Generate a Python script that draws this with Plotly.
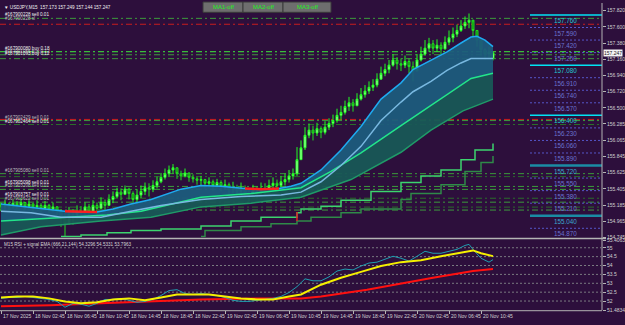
import plotly.graph_objects as go

W, H = 625, 325
BG = "#2d0f3c"
SANS = "Liberation Sans, Arial"

# ---------------- data ----------------
symbol_title = "▼ USDJPY,M15  157.173 157.249 157.144 157.247"
rsi_title = "M15 RSI + signal EMA (666,21,144) 54.3296 54.5331 53.7963"

candle_bars = list(range(0, 248, 2))
closes = [155.17, 155.20, 155.16, 155.21, 155.18, 155.22, 155.17, 155.20, 155.16, 155.18,
          155.14, 155.18, 155.13, 155.16, 155.10, 155.02, 154.93, 155.06, 155.02, 155.10,
          155.08, 155.16, 155.10, 155.18, 155.14, 155.22, 155.18, 155.26, 155.30, 155.36,
          155.33, 155.40, 155.34, 155.26, 155.32, 155.37, 155.42, 155.40, 155.45, 155.50,
          155.56, 155.61, 155.66, 155.69, 155.61, 155.58, 155.62, 155.56, 155.54, 155.52,
          155.53, 155.48, 155.50, 155.45, 155.49, 155.44, 155.46, 155.40, 155.42, 155.37,
          155.41, 155.34, 155.32, 155.38, 155.36, 155.41, 155.40, 155.45, 155.48, 155.45,
          155.50, 155.53, 155.58, 155.61, 155.80, 155.96, 156.13, 156.20, 156.16, 156.22,
          156.17, 156.24, 156.29, 156.33, 156.40, 156.44, 156.52, 156.57, 156.53, 156.62,
          156.68, 156.73, 156.78, 156.81, 156.89, 156.97, 157.02, 157.08, 157.15, 157.10,
          157.08, 157.13, 157.06, 157.00, 157.15, 157.23, 157.31, 157.37, 157.31, 157.35,
          157.30, 157.39, 157.45, 157.50, 157.55, 157.61, 157.66, 157.69, 157.55, 157.42,
          157.29, 157.23, 157.26, 157.247]
highs = [155.22, 155.26, 155.22, 155.26, 155.24, 155.28, 155.22, 155.25, 155.21, 155.25,
         155.21, 155.24, 155.20, 155.22, 155.17, 155.13, 155.10, 155.16, 155.13, 155.18,
         155.17, 155.22, 155.20, 155.25, 155.22, 155.29, 155.26, 155.33, 155.37, 155.42,
         155.41, 155.45, 155.42, 155.37, 155.40, 155.45, 155.49, 155.48, 155.52, 155.57,
         155.62, 155.68, 155.72, 155.74, 155.69, 155.65, 155.68, 155.61, 155.60, 155.57,
         155.58, 155.54, 155.56, 155.53, 155.54, 155.52, 155.53, 155.49, 155.50, 155.46,
         155.49, 155.45, 155.41, 155.46, 155.44, 155.49, 155.48, 155.53, 155.56, 155.53,
         155.58, 155.61, 155.66, 155.68, 155.97, 156.06, 156.24, 156.29, 156.26, 156.30,
         156.25, 156.32, 156.36, 156.41, 156.49, 156.53, 156.60, 156.65, 156.62, 156.70,
         156.77, 156.81, 156.86, 156.89, 156.97, 157.06, 157.10, 157.15, 157.23, 157.19,
         157.17, 157.21, 157.17, 157.13, 157.23, 157.33, 157.42, 157.45, 157.42, 157.43,
         157.39, 157.47, 157.55, 157.59, 157.63, 157.69, 157.74, 157.78, 157.66, 157.55,
         157.42, 157.31, 157.33, 157.249]
lows = [155.10, 155.13, 155.10, 155.14, 155.13, 155.16, 155.12, 155.13, 155.09, 155.13,
        155.09, 155.12, 155.08, 155.09, 155.02, 154.89, 154.76, 154.94, 154.92, 155.00,
        154.97, 155.05, 155.00, 155.08, 155.05, 155.13, 155.10, 155.18, 155.21, 155.28,
        155.25, 155.32, 155.26, 155.17, 155.20, 155.28, 155.32, 155.30, 155.36, 155.41,
        155.48, 155.53, 155.57, 155.61, 155.54, 155.52, 155.56, 155.50, 155.49, 155.46,
        155.45, 155.41, 155.42, 155.38, 155.42, 155.37, 155.40, 155.32, 155.34, 155.29,
        155.33, 155.28, 155.24, 155.29, 155.28, 155.32, 155.30, 155.36, 155.40, 155.37,
        155.42, 155.45, 155.49, 155.53, 155.58, 155.80, 155.93, 156.09, 156.06, 156.12,
        156.09, 156.14, 156.20, 156.24, 156.30, 156.34, 156.41, 156.46, 156.45, 156.53,
        156.60, 156.64, 156.69, 156.73, 156.78, 156.89, 156.93, 156.97, 157.06, 157.02,
        157.00, 157.04, 156.97, 156.86, 157.05, 157.13, 157.21, 157.26, 157.23, 157.26,
        157.22, 157.29, 157.35, 157.39, 157.46, 157.53, 157.57, 157.58, 157.46, 157.33,
        157.21, 157.15, 157.18, 157.144]
first_open = 155.20
last_open = 157.173
opens = [first_open] + closes[:-1]
opens[-1] = last_open

# moving-average envelope lines
blue_up_bars = [0, 10, 20, 32, 40, 48, 56, 65, 75, 90, 100, 110, 122, 130, 139, 145, 150, 160,
                170, 180, 190, 200, 206, 215, 223, 230, 235, 238, 242, 246]
blue_up = [155.20, 155.17, 155.14, 155.10, 155.09, 155.09, 155.13, 155.20, 155.26, 155.40,
           155.45, 155.44, 155.41, 155.40, 155.41, 155.44, 155.48, 155.66, 155.93, 156.25,
           156.62, 156.84, 157.02, 157.15, 157.26, 157.38, 157.46, 157.47, 157.42, 157.33]
red_ranges = [(32, 48), (122, 139)]

blue_lo_bars = [0, 15, 30, 50, 65, 80, 100, 120, 140, 150, 160, 170, 180, 190, 200, 206, 215,
                223, 230, 235, 246]
blue_lo = [155.10, 155.08, 155.02, 155.02, 155.10, 155.18, 155.26, 155.30, 155.32, 155.36,
           155.50, 155.72, 155.98, 156.33, 156.58, 156.72, 156.86, 157.01, 157.11, 157.17, 157.17]

green_up_bars = [0, 20, 53, 70, 100, 125, 150, 165, 180, 200, 211, 223, 235, 246]
green_up = [154.97, 155.00, 155.05, 155.10, 155.29, 155.34, 155.42, 155.64, 155.89, 156.26,
            156.46, 156.69, 156.90, 156.97]

green_lo_bars = [0, 20, 50, 75, 100, 125, 150, 175, 200, 215, 231, 246]
green_lo = [154.78, 154.89, 154.97, 155.02, 155.16, 155.21, 155.29, 155.53, 155.90, 156.20,
            156.46, 156.62]

stair1_bars = [30, 40, 53, 65, 80, 100, 115, 130, 148, 150, 160, 170, 185, 200, 210, 220, 230, 237, 246]
stair1 = [154.76, 154.78, 154.81, 154.84, 154.86, 154.90, 154.97, 155.02, 155.08, 155.13,
          155.17, 155.25, 155.37, 155.49, 155.58, 155.66, 155.80, 155.93, 156.02]
stair2_bars = [100, 102, 120, 135, 148, 155, 170, 180, 200, 205, 220, 232, 240, 246]
stair2 = [154.76, 154.84, 154.89, 154.93, 154.97, 155.02, 155.08, 155.13, 155.26, 155.34,
          155.46, 155.64, 155.76, 155.85]
red_step_bar = [148, 148]
red_step = [154.97, 155.09]

# price axis
price_ticks = [157.820, 157.600, 157.380, 157.160, 156.940, 156.720, 156.500, 156.285,
               156.065, 155.845, 155.625, 155.405, 155.185, 154.965, 154.745]
current_price = 157.247

# level grid at right
levels = [157.930, 157.760, 157.590, 157.420, 157.250, 157.080, 156.910, 156.740, 156.570,
          156.400, 156.230, 156.060, 155.890, 155.720, 155.550, 155.380, 155.210, 155.040, 154.870]
bright_levels = [157.760, 157.080, 156.400]
teal_levels = [155.720, 155.040]

# order lines (price, kind)
order_lines = [(157.714, "sell"), (157.634, "sl"), (157.262, "buy"), (157.221, "sell"),
               (157.168, "sell"), (156.345, "sl"), (156.329, "sell"), (156.276, "dark"),
               (155.610, "sell"), (155.570, "dark"), (155.437, "sell"), (155.397, "sell"),
               (155.277, "dark"), (155.224, "sell"), (155.157, "dark"), (155.117, "sell")]
order_labels = [(157.714, "#167900228 sell 0.01"), (157.660, "#167900228 sl"),
                (157.262, "#167900080 buy 0.18"), (157.221, "#167901055 buy 0.12"),
                (157.190, "#167901093 buy 0.12"),
                (156.329, "#167902429 sell 0.01"), (156.276, "#167902464 sell 0.01"),
                (155.610, "#167905080 sell 0.01"), (155.437, "#167905098 sell 0.01"),
                (155.397, "#167903208 sell 0.01"), (155.277, "#167903757 sell 0.01"),
                (155.224, "#167903622 sell 0.01")]

# RSI window
rsi_bars = list(range(0, 233, 4)) + [234, 236, 240, 244, 246]
rsi = [52.15, 52.20, 52.20, 52.26, 52.20, 52.15, 52.09, 51.98, 51.65, 51.87,
       51.82, 51.71, 51.87, 52.09, 52.09, 52.15, 52.04, 51.93, 51.98, 52.09,
       52.31, 52.59, 52.64, 52.42, 52.37, 52.42, 52.37, 52.31, 52.20, 52.04,
       51.98, 51.98, 52.04, 52.09, 52.15, 52.26, 52.48, 52.81, 53.25, 53.14,
       53.14, 53.36, 53.69, 53.80, 53.75, 53.97, 54.14, 54.19, 54.36, 54.52,
       54.41, 54.25, 54.52, 54.80, 54.69, 54.69, 54.80, 54.91, 55.13, 55.19,
       54.91, 54.41, 54.19, 54.33]
sig_bars = [0, 8, 16, 24, 32, 40, 48, 56, 64, 72, 80, 88, 96, 104, 112, 120, 128, 136, 144,
            150, 160, 170, 180, 190, 200, 210, 220, 230, 236, 240, 246]
signal = [52.20, 52.26, 52.26, 52.15, 51.98, 51.87, 51.93, 52.09, 52.15, 52.04, 52.20, 52.37,
          52.37, 52.37, 52.26, 52.15, 52.09, 52.09, 52.26, 52.37, 52.92, 53.31, 53.64, 53.97,
          54.19, 54.30, 54.52, 54.74, 54.85, 54.69, 54.53]
slow_bars = [0, 25, 50, 75, 100, 130, 150, 160, 183, 216, 236, 246]
slow = [51.70, 51.76, 51.87, 51.98, 52.09, 52.15, 52.15, 52.26, 52.64, 53.31, 53.69, 53.80]
rsi_ticks = [55.4063, 55, 54.5, 54, 53.5, 53, 52.5, 52, 51.4834]
rsi_ticktext = ["55.4063", "55", "54.5", "54", "53.5", "53", "52.5", "52", "51.4834"]
rsi_grid = [55, 54.5, 54, 53.5, 53, 52.5, 52]

time_tick_bars = list(range(0, 241, 16))
time_labels = ["17 Nov 2025", "18 Nov 02:45", "18 Nov 06:45", "18 Nov 10:45", "18 Nov 14:45",
               "18 Nov 18:45", "18 Nov 22:45", "19 Nov 02:45", "19 Nov 06:45", "19 Nov 10:45",
               "19 Nov 14:45", "19 Nov 18:45", "19 Nov 22:45", "20 Nov 02:45", "20 Nov 06:45",
               "20 Nov 10:45"]
buttons = ["MA1-off", "MA2-off", "MA3-off"]

# ---------------- layout geometry ----------------
PLOT_R = 602
XR = [-0.5, 300.5]
PRICE_RANGE = [154.744, 157.922]
RSI_RANGE = [51.4834, 55.4063]
FS = 5          # tiny terminal font
FS_T = 4.6      # title / order label font


def px(x):
    return x / W


def py(y):
    return 1 - y / H


fig = go.Figure()

# green band fill
fig.add_trace(go.Scatter(x=green_up_bars + green_lo_bars[::-1], y=green_up + green_lo[::-1],
                         fill="toself", fillcolor="rgba(24,88,86,0.95)", line=dict(width=0),
                         mode="lines", hoverinfo="skip", showlegend=False))
# blue band fill (blue upper down to green upper)
fig.add_trace(go.Scatter(x=blue_up_bars + green_up_bars[::-1], y=blue_up + green_up[::-1],
                         fill="toself", fillcolor="rgba(28,92,124,0.95)", line=dict(width=0),
                         mode="lines", hoverinfo="skip", showlegend=False))

# staircases
fig.add_trace(go.Scatter(x=stair2_bars, y=stair2, mode="lines", line=dict(color="#2f8a48", width=1.5, shape="hv"),
                         hoverinfo="skip", showlegend=False))
fig.add_trace(go.Scatter(x=stair1_bars, y=stair1, mode="lines", line=dict(color="#3cd46e", width=1.5, shape="hv"),
                         hoverinfo="skip", showlegend=False))
fig.add_trace(go.Scatter(x=red_step_bar, y=red_step, mode="lines", line=dict(color="#e02020", width=1.5),
                         hoverinfo="skip", showlegend=False))

# envelope lines
fig.add_trace(go.Scatter(x=green_lo_bars, y=green_lo, mode="lines", line=dict(color="#1f9a68", width=1.5),
                         hoverinfo="skip", showlegend=False))
fig.add_trace(go.Scatter(x=green_up_bars, y=green_up, mode="lines", line=dict(color="#22e58a", width=1.5),
                         hoverinfo="skip", showlegend=False))
fig.add_trace(go.Scatter(x=blue_lo_bars, y=blue_lo, mode="lines", line=dict(color="#78b8e0", width=1.5),
                         hoverinfo="skip", showlegend=False))
fig.add_trace(go.Scatter(x=blue_up_bars, y=blue_up, mode="lines", line=dict(color="#1eaaf0", width=1.5),
                         hoverinfo="skip", showlegend=False))
for a, b in red_ranges:
    pts = [(xb, v) for xb, v in zip(blue_up_bars, blue_up) if a <= xb <= b]
    fig.add_trace(go.Scatter(x=[p[0] for p in pts], y=[p[1] for p in pts], mode="lines",
                             line=dict(color="#ff1e1e", width=2.5), hoverinfo="skip", showlegend=False))

# candles
fig.add_trace(go.Candlestick(x=candle_bars, open=opens, high=highs, low=lows, close=closes,
                             increasing=dict(line=dict(color="#20ff20", width=1), fillcolor="#b0ffb0"),
                             decreasing=dict(line=dict(color="#20e020", width=1), fillcolor="#0a7a0a"),
                             whiskerwidth=0, hoverinfo="skip", showlegend=False))

# RSI window
fig.add_trace(go.Scatter(x=slow_bars, y=slow, mode="lines", line=dict(color="#ff1010", width=2),
                         xaxis="x2", yaxis="y2", hoverinfo="skip", showlegend=False))
fig.add_trace(go.Scatter(x=rsi_bars, y=rsi, mode="lines", line=dict(color="#1f9fb0", width=1),
                         xaxis="x2", yaxis="y2", hoverinfo="skip", showlegend=False))
fig.add_trace(go.Scatter(x=sig_bars, y=signal, mode="lines", line=dict(color="#f5f000", width=2),
                         xaxis="x2", yaxis="y2", hoverinfo="skip", showlegend=False))

shapes = []
annotations = []

# order lines
order_colors = {"sell": "#3c9c3c", "sl": "#c81e1e", "buy": "#3cf03c", "dark": "#2a6e2a"}
for price, kind in order_lines:
    shapes.append(dict(type="line", xref="x", yref="y", x0=XR[0], x1=XR[1], y0=price, y1=price,
                       line=dict(color=order_colors[kind], width=1, dash="6px,3px,2px,3px"), layer="below"))
for i, (price, text) in enumerate(order_labels):
    annotations.append(dict(xref="x", yref="y", x=1, y=price, text=text, showarrow=False,
                            xanchor="left", yanchor="bottom", yshift=-1,
                            font=dict(family=SANS, size=FS_T, color="#f0f0f0" if i % 2 == 0 else "#bcbcbc")))

# level grid at right
for lv in levels:
    if lv in bright_levels:
        ln = dict(color="#00e4f4", width=1.5)
        lc = "#22c8d0"
    elif lv in teal_levels:
        ln = dict(color="#1a8ca4", width=2.5)
        lc = "#3aa8d0"
    else:
        ln = dict(color="#5656c8", width=1, dash="2px,2px")
        lc = "#6a72d0"
    if lv < PRICE_RANGE[1]:
        shapes.append(dict(type="line", xref="x", yref="y", x0=264.5, x1=300.5, y0=lv, y1=lv, line=ln))
    annotations.append(dict(xref="x", yref="y", x=282, y=lv, text=f"{lv:.3f}", showarrow=False,
                            xanchor="center", yanchor="top", yshift=0,
                            font=dict(family=SANS, size=6.3, color=lc)))

# RSI grid
for g in rsi_grid:
    shapes.append(dict(type="line", xref="x2", yref="y2", x0=XR[0], x1=300, y0=g, y1=g,
                       line=dict(color="#7a7a80", width=1, dash="2px,2px"), layer="below"))

# frame lines
shapes.append(dict(type="line", xref="paper", yref="paper", x0=px(PLOT_R), x1=px(PLOT_R), y0=py(313), y1=1,
                   line=dict(color="#b4b4b4", width=1)))
shapes.append(dict(type="line", xref="paper", yref="paper", x0=0, x1=px(606), y0=py(240), y1=py(240),
                   line=dict(color="#b4b4b4", width=1.5)))
shapes.append(dict(type="line", xref="paper", yref="paper", x0=0, x1=px(PLOT_R), y0=py(313.5), y1=py(313.5),
                   line=dict(color="#b4b4b4", width=1)))

# buttons
bx = [(203, 243), (243, 283), (283, 331)]
for (x0, x1), label in zip(bx, buttons):
    shapes.append(dict(type="rect", xref="paper", yref="paper", x0=px(x0), x1=px(x1), y0=py(9.5), y1=py(-1),
                       fillcolor="#6e6e6e", line=dict(color="#3a3a3a", width=1)))
    annotations.append(dict(xref="paper", yref="paper", x=px((x0 + x1) / 2), y=py(4.5), text=label,
                            showarrow=False, xanchor="center", yanchor="middle",
                            font=dict(family=SANS, size=6, color="#22ee22")))

# titles
annotations.append(dict(xref="paper", yref="paper", x=px(2), y=py(0), text=symbol_title, showarrow=False,
                        xanchor="left", yanchor="top", font=dict(family=SANS, size=FS_T, color="#f0f0f0")))
annotations.append(dict(xref="paper", yref="paper", x=px(2), y=py(241), text=rsi_title, showarrow=False,
                        xanchor="left", yanchor="top", font=dict(family=SANS, size=FS_T, color="#d4d4d4")))

# current price box
annotations.append(dict(xref="paper", yref="y", x=px(603), y=current_price, text=f"{current_price:.3f}",
                        showarrow=False, xanchor="left", yanchor="middle", bgcolor="#f4f4f4",
                        borderpad=0, font=dict(family=SANS, size=FS, color="#202020")))

# time labels (left aligned at tick, MT4 style)
for b, t in zip(time_tick_bars, time_labels):
    annotations.append(dict(xref="x2", yref="paper", x=b, y=py(314), text=t, showarrow=False,
                            xanchor="left", yanchor="top", xshift=0,
                            font=dict(family=SANS, size=FS, color="#d0d0d0")))

fig.update_layout(
    width=W, height=H, margin=dict(l=0, r=0, t=0, b=0),
    paper_bgcolor=BG, plot_bgcolor=BG, showlegend=False,
    xaxis=dict(domain=[0, px(PLOT_R)], range=XR, anchor="y", showgrid=False, zeroline=False,
               showticklabels=False, ticks="", rangeslider=dict(visible=False), fixedrange=True),
    yaxis=dict(domain=[py(239), 1], range=PRICE_RANGE, side="right", anchor="x", showgrid=False,
               zeroline=False, tickvals=price_ticks, ticktext=[f"{v:.3f}" for v in price_ticks],
               ticks="outside", ticklen=3, tickcolor="#b4b4b4",
               tickfont=dict(family=SANS, size=FS, color="#d0d0d0")),
    xaxis2=dict(domain=[0, px(PLOT_R)], range=XR, anchor="y2", showgrid=False, zeroline=False,
                tickvals=time_tick_bars, showticklabels=False, ticks="outside", ticklen=3,
                tickcolor="#b4b4b4"),
    yaxis2=dict(domain=[py(313), py(242)], range=RSI_RANGE, side="right", anchor="x2", showgrid=False,
                zeroline=False, tickvals=rsi_ticks, ticktext=rsi_ticktext,
                ticks="outside", ticklen=3, tickcolor="#b4b4b4",
                tickfont=dict(family=SANS, size=FS, color="#d0d0d0")),
    shapes=shapes, annotations=annotations,
)

fig.write_html("out.html")
